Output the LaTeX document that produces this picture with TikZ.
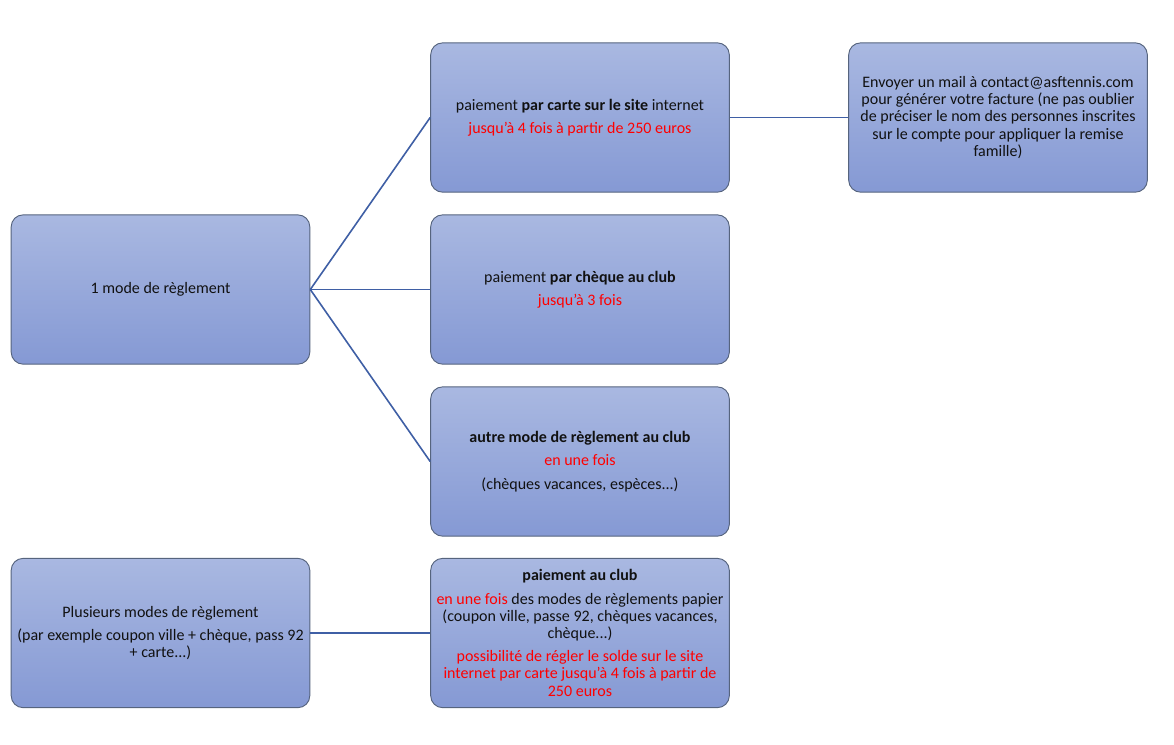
\documentclass[tikz,border=0pt]{standalone}
\usepackage{fontspec}
\setmainfont{Carlito}
\definecolor{boxtop}{HTML}{A9B8E1}
\definecolor{boxbot}{HTML}{8599D4}
\definecolor{boxedge}{HTML}{56647E}
\definecolor{conn}{HTML}{3F5FA5}
\definecolor{redtxt}{HTML}{FF0000}
\definecolor{blacktxt}{HTML}{111111}
\tikzset{
  box/.style={draw=boxedge, line width=0.7pt, rounded corners=9pt,
    top color=boxtop, bottom color=boxbot,
    minimum width=224pt, minimum height=112pt, inner sep=3pt,
    align=center, text=blacktxt, font=\fontsize{12}{12.9}\selectfont},
  conn/.style={draw=conn, line width=1.2pt},
}
\begin{document}
\begin{tikzpicture}[x=0.75pt,y=-0.75pt]
\useasboundingbox (0,0) rectangle (1174,744);
\node[box] (A) at (160.5,289.5) {1 mode de règlement};
\node[box] (B1) at (580,117.5) {paiement \textbf{par carte sur le site} internet\\[4.5pt]\textcolor{redtxt}{jusqu'à 4 fois à partir de 250 euros}};
\node[box] (B2) at (580,289.5) {paiement \textbf{par chèque au club}\\[4.5pt]\textcolor{redtxt}{jusqu'à 3 fois}};
\node[box] (B3) at (580,461.5) {\textbf{autre mode de règlement au club}\\[4.5pt]\textcolor{redtxt}{en une fois}\\[4.5pt](chèques vacances, espèces...)};
\node[box] (C) at (998,117.5) {Envoyer un mail à contact@asftennis.com\\pour générer votre facture (ne pas oublier\\de préciser le nom des personnes inscrites\\sur le compte pour appliquer la remise\\famille)};
\node[box] (D) at (160.5,633) {Plusieurs modes de règlement\\[4.5pt](par exemple coupon ville + chèque, pass 92\\+ carte...)};
\node[box] (E) at (580,633) {\textbf{paiement au club}\\[4.5pt]\textcolor{redtxt}{en une fois} des modes de règlements papier\\(coupon ville, passe 92, chèques vacances,\\chèque...)\\[4.5pt]\textcolor{redtxt}{possibilité de régler le solde sur le site}\\\textcolor{redtxt}{internet par carte jusqu'à 4 fois à partir de}\\\textcolor{redtxt}{250 euros}};
\draw[conn] (A.east) -- (B1.west);
\draw[conn] (A.east) -- (B2.west);
\draw[conn] (A.east) -- (B3.west);
\draw[conn] (B1.east) -- (C.west);
\draw[conn] (D.east) -- (E.west);
\end{tikzpicture}
\end{document}
